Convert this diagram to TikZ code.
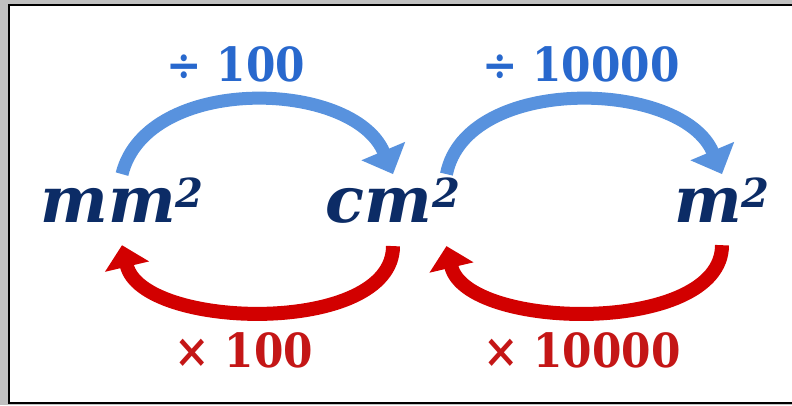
\documentclass[tikz,border=0pt]{standalone}
\usepackage{fontspec}
\usepackage{tikz}
\usetikzlibrary{arrows.meta,positioning,calc}
\newfontfamily\unitfont{DejaVu Serif}
\newfontfamily\factorfont[FakeStretch=0.9]{DejaVu Serif}
\definecolor{unitnavy}{RGB}{12, 44, 102}
\definecolor{divblue}{RGB}{88, 146, 222}
\definecolor{divtext}{RGB}{40, 104, 205}
\definecolor{mulred}{RGB}{210, 0, 0}
\definecolor{multext}{RGB}{196, 22, 22}
\definecolor{shadowgray}{RGB}{192, 192, 192}
\newcommand{\sqr}{\raisebox{15pt}{\fontsize{40}{40}\selectfont 2}}

\begin{document}
\begin{tikzpicture}[x=1pt, y=1pt,
  unit/.style={font=\unitfont\bfseries\itshape\fontsize{64}{70}\selectfont,
               text=unitnavy, inner sep=3pt, anchor=base},
  factor/.style={font=\factorfont\bfseries\fontsize{47}{50}\selectfont, anchor=base},
  divarr/.style={divblue, line width=13pt, -{Triangle[width=46pt,length=25pt]}},
  mularr/.style={mulred, line width=14pt, -{Triangle[width=44pt,length=22pt]}},
]
\useasboundingbox (0,0) rectangle (792,405);

% Frame
\fill[shadowgray] (0,0) rectangle (792,405);
\draw[line width=2pt, fill=white] (9,2) rectangle (800,400);

% Units
\node[unit] (mm) at (122,183) {mm\sqr};
\node[unit] (cm) at (393,183) {cm\sqr};
\node[unit] (m)  at (722,183) {m\sqr};

% Divide arrows
\draw[divarr] (mm.north) .. controls +(25,100) and +(-40,95) .. (cm.north);
\draw[divarr] ([xshift=-17pt]cm.north east) .. controls +(20,100) and +(-40,95) .. (m.north);

% Multiply arrows
\draw[mularr] ([yshift=-20pt]cm.south) .. controls +(0,-90) and +(20,-85) .. ([yshift=-20pt]mm.south);
\draw[mularr] ([yshift=-20pt]m.south) .. controls +(0,-90) and +(20,-85) .. ([xshift=-17pt,yshift=-20pt]cm.south east);

% Factor labels
\node[factor, text=divtext] (div100)   at (236,323) {÷ 100};
\node[factor, text=divtext] (div10000) at (581,323) {÷ 10000};
\node[factor, text=multext] (mul100)   at (244,38)  {× 100};
\node[factor, text=multext] (mul10000) at (582,38)  {× 10000};

\end{tikzpicture}
\end{document}
